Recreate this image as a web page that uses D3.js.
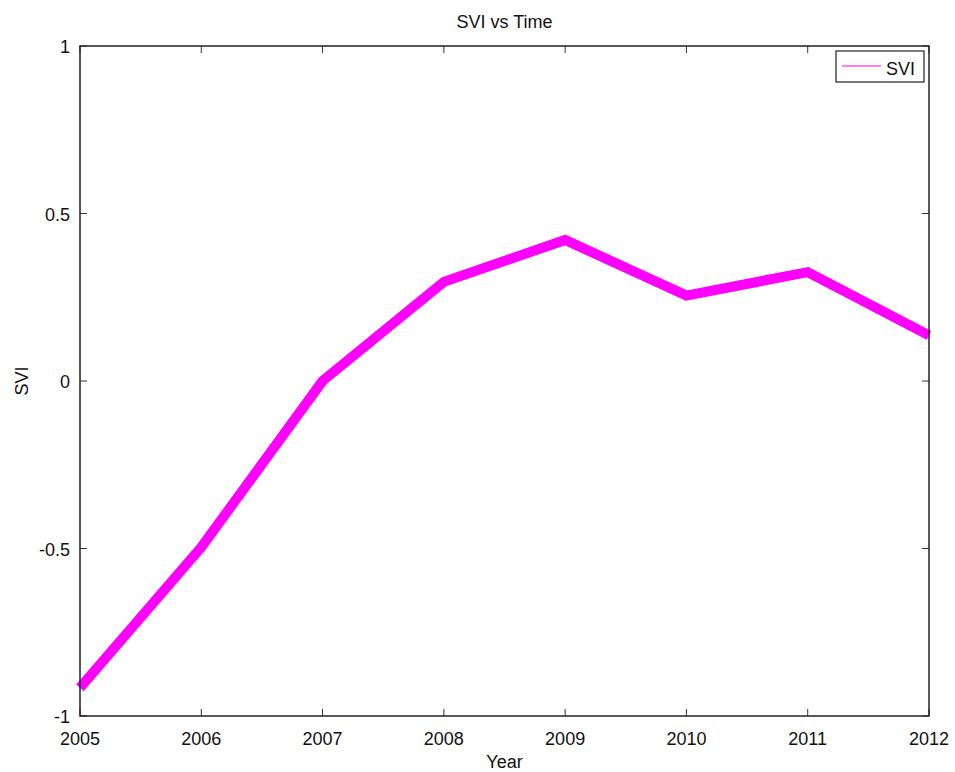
<!DOCTYPE html>
<html><head><meta charset="utf-8">
<script src="https://cdn.jsdelivr.net/npm/d3@7"></script>
<style>body{margin:0;background:#fff;} text{font-family:"Liberation Sans",Arial,sans-serif;fill:#111;}</style>
</head><body>
<svg id="c" width="955" height="772"></svg>
<script>
const years = [2005, 2006, 2007, 2008, 2009, 2010, 2011, 2012];
const svi = [-0.916, -0.496, 0.0, 0.296, 0.421, 0.255, 0.325, 0.136];
const yTicks = [-1, -0.5, 0, 0.5, 1];
const xTicks = years;

const svg = d3.select("#c");
const L = 80, R = 929, T = 46, B = 716;
const x = d3.scaleLinear().domain([2005, 2012]).range([L, R]);
const y = d3.scaleLinear().domain([-1, 1]).range([B, T]);
const fs = 18;

const tl = 7;
const g = svg.append("g");
xTicks.forEach(t => {
  g.append("line").attr("x1", x(t)).attr("x2", x(t)).attr("y1", B).attr("y2", B - tl).attr("stroke", "#333");
  g.append("line").attr("x1", x(t)).attr("x2", x(t)).attr("y1", T).attr("y2", T + tl).attr("stroke", "#333");
  g.append("text").attr("x", x(t)).attr("y", 745).attr("text-anchor", "middle").attr("font-size", fs).text(t);
});
yTicks.forEach(t => {
  g.append("line").attr("x1", L).attr("x2", L + tl).attr("y1", y(t)).attr("y2", y(t)).attr("stroke", "#333");
  g.append("line").attr("x1", R).attr("x2", R - tl).attr("y1", y(t)).attr("y2", y(t)).attr("stroke", "#333");
  g.append("text").attr("x", L - 10).attr("y", y(t) + 7).attr("text-anchor", "end").attr("font-size", fs).text(t);
});

const line = d3.line().x((d, i) => x(years[i])).y(d => y(d));
svg.append("path").datum(svi).attr("d", line).attr("fill", "none")
  .attr("stroke", "#ff00ff").attr("stroke-width", 10).attr("stroke-linejoin", "miter");

svg.append("rect").attr("x", L).attr("y", T).attr("width", R - L).attr("height", B - T)
  .attr("fill", "none").attr("stroke", "#222").attr("stroke-width", 1.5);

// legend
svg.append("rect").attr("x", 836).attr("y", 51).attr("width", 88).attr("height", 31)
  .attr("fill", "#fff").attr("stroke", "#222").attr("stroke-width", 1.2);
svg.append("line").attr("x1", 842).attr("x2", 881).attr("y1", 66).attr("y2", 66)
  .attr("stroke", "#ff00ff").attr("stroke-width", 1.2);
svg.append("text").attr("x", 886).attr("y", 75).attr("font-size", fs).text("SVI");

svg.append("text").attr("x", (L + R) / 2).attr("y", 28).attr("text-anchor", "middle").attr("font-size", fs).text("SVI vs Time");
svg.append("text").attr("x", (L + R) / 2).attr("y", 768).attr("text-anchor", "middle").attr("font-size", fs).text("Year");
svg.append("text").attr("transform", `translate(28,${(T + B) / 2}) rotate(-90)`).attr("text-anchor", "middle").attr("font-size", fs).text("SVI");
</script>
</body></html>
